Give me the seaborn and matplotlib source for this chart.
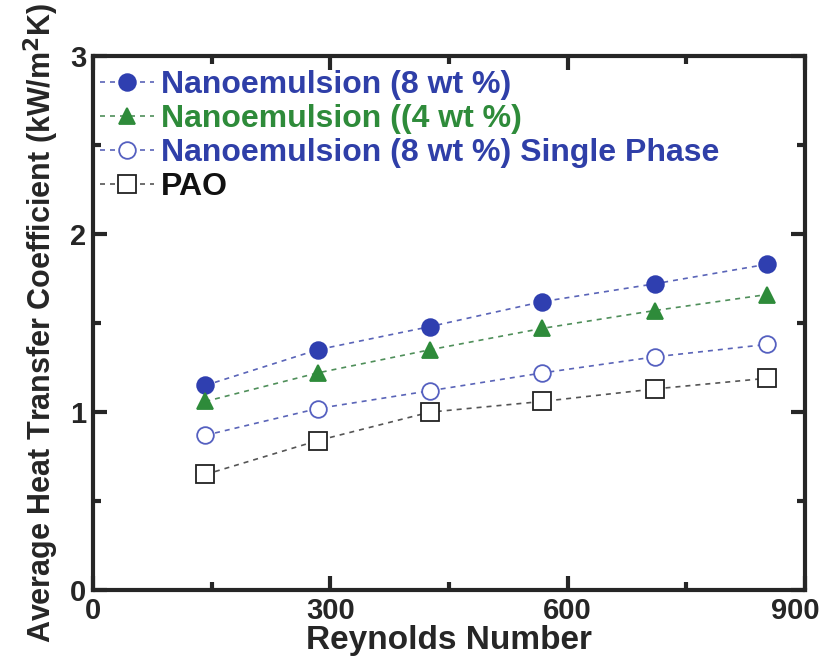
import matplotlib
matplotlib.use("Agg")
import matplotlib.pyplot as plt
from matplotlib.ticker import MultipleLocator
import matplotlib.transforms as mtransforms
import seaborn as sns
import pandas as pd

reynolds = [142, 284, 426, 568, 710, 852]
ne8 = [1.15, 1.35, 1.48, 1.62, 1.72, 1.83]
ne4 = [1.06, 1.22, 1.35, 1.47, 1.57, 1.66]
ne8_single = [0.87, 1.02, 1.12, 1.22, 1.31, 1.38]
pao = [0.65, 0.84, 1.00, 1.06, 1.13, 1.19]
labels = ["Nanoemulsion (8 wt %)", "Nanoemulsion ((4 wt %)",
          "Nanoemulsion (8 wt %) Single Phase", "PAO"]

sns.set_style("ticks")
plt.rcParams['font.family'] = ['Liberation Sans', 'DejaVu Sans']
plt.rcParams['font.weight'] = 'bold'
plt.rcParams['mathtext.default'] = 'bf'

fig = plt.figure(figsize=(8.23, 6.64), dpi=100)
ax = fig.add_axes([0.113, 0.111, 0.865, 0.805])

series = [ne8, ne4, ne8_single, pao]
styles = [
    dict(marker='o', mfc='#2f3fb0', mec='#2f3fb0', color='#5a64b8', ms=12),
    dict(marker='^', mfc='#2e8b3a', mec='#2e8b3a', color='#4f8f5a', ms=12),
    dict(marker='o', mfc='white', mec='#5560c0', color='#5a64b8', ms=12),
    dict(marker='s', mfc='white', mec='#222222', color='#555555', ms=13),
]
text_colors = ['#2f3fa8', '#2e8b3a', '#2f3fa8', '#111111']

for vals, lab, st in zip(series, labels, styles):
    df = pd.DataFrame({'Re': reynolds, 'h': vals})
    sns.lineplot(data=df, x='Re', y='h', ax=ax, label=lab,
                 linestyle=(0, (3, 3)), linewidth=1.2, color=st['color'],
                 marker=st['marker'], markersize=st['ms'],
                 markerfacecolor=st['mfc'], markeredgecolor=st['mec'],
                 markeredgewidth=1.3)

ax.set_xlim(0, 900)
ax.set_ylim(0, 3)
ax.set_xticks([0, 300, 600, 900])
ax.set_xticklabels(['0', '300', '600', '900'])
ax.xaxis.set_minor_locator(MultipleLocator(150))
ax.yaxis.set_major_locator(MultipleLocator(1))
ax.yaxis.set_minor_locator(MultipleLocator(0.5))
ax.tick_params(which='both', direction='in', top=True, right=True,
               width=3, labelsize=21, pad=5)
ax.tick_params(which='major', length=10)
ax.tick_params(which='minor', length=6)
for sp in ax.spines.values():
    sp.set_linewidth(3)

ax.set_xlabel("Reynolds Number", fontsize=24, fontweight='bold', labelpad=0)
ax.set_ylabel(r"Average Heat Transfer Coefficient (kW/m$^2$K)", fontsize=22,
              fontweight='bold', labelpad=6)

leg = ax.legend(loc='upper left', bbox_to_anchor=(0.0, 0.986), frameon=False,
                fontsize=23, handlelength=1.7, handletextpad=0.2,
                labelspacing=0.12, borderaxespad=0.0, borderpad=0.22)
for t, c in zip(leg.get_texts(), text_colors):
    t.set_color(c)
    t.set_fontweight('bold')

fig.canvas.draw()
shift = mtransforms.ScaledTranslation(-10 / 100, 0, fig.dpi_scale_trans)
for lbl in ax.get_xticklabels():
    if lbl.get_text() == '900':
        lbl.set_transform(lbl.get_transform() + shift)

fig.savefig("out.png", dpi=100)
